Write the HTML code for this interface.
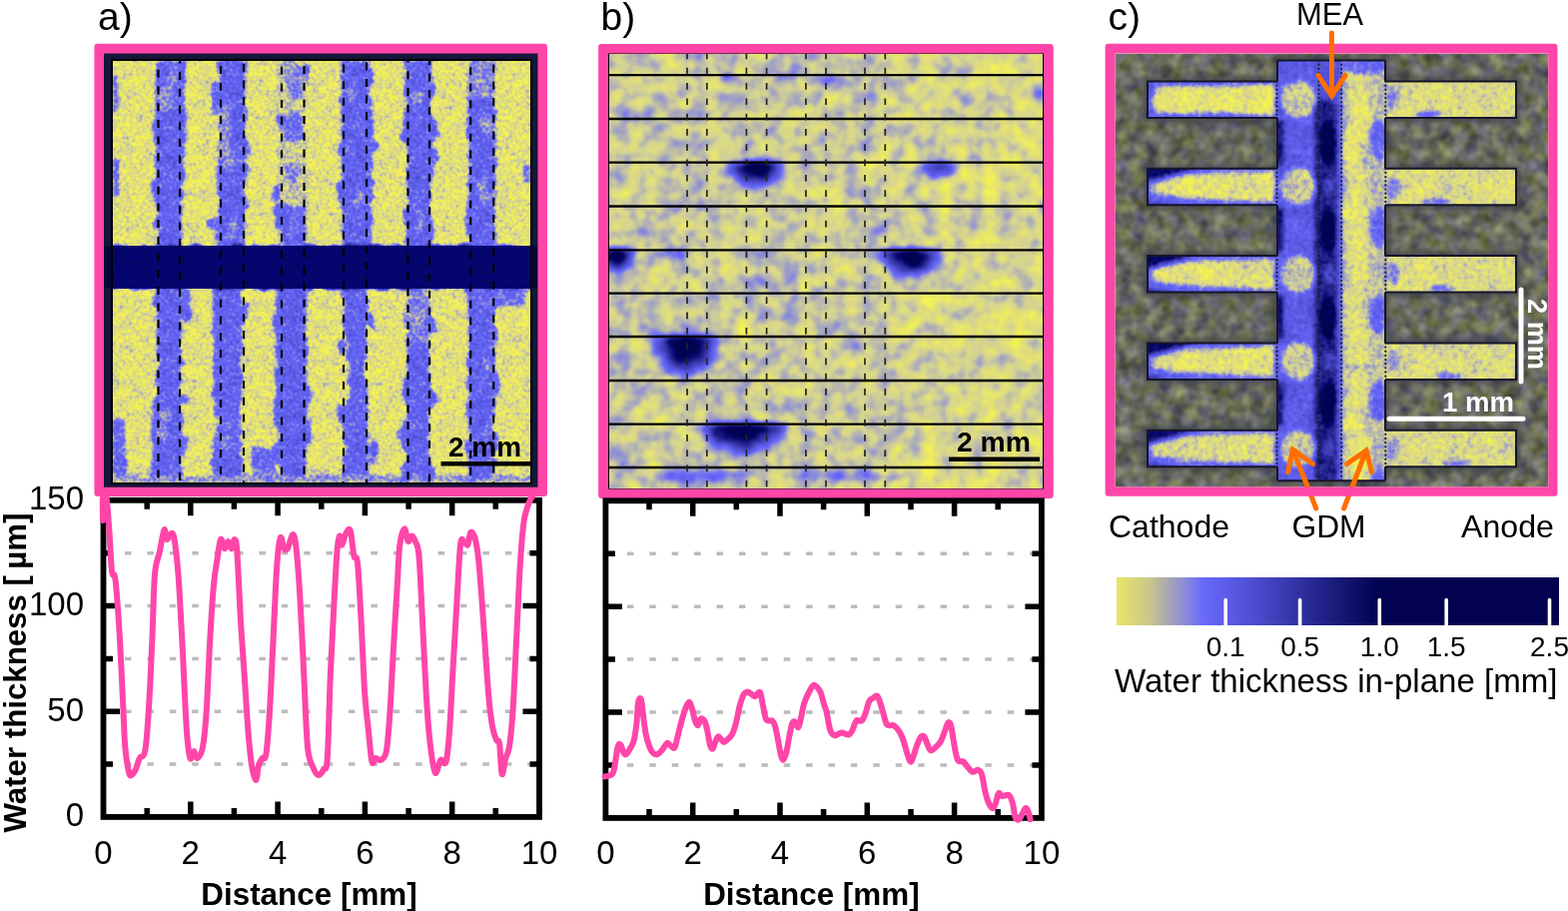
<!DOCTYPE html>
<html><head><meta charset="utf-8"><title>Water thickness figure</title>
<style>html,body{margin:0;padding:0;background:#fff;width:1570px;height:912px;overflow:hidden}svg{display:block}</style>
</head><body>
<svg width="1570" height="912" viewBox="0 0 1570 912">
<defs><filter id="fa" filterUnits="userSpaceOnUse" x="113" y="61" width="418" height="422" color-interpolation-filters="sRGB"><feTurbulence type="fractalNoise" baseFrequency="0.07" numOctaves="2" seed="4" result="dn"/><feDisplacementMap in="SourceGraphic" in2="dn" scale="11" xChannelSelector="R" yChannelSelector="G" result="d"/><feGaussianBlur in="d" stdDeviation="1.4" result="b"/><feTurbulence type="fractalNoise" baseFrequency="0.3" numOctaves="1" seed="7" result="n0"/><feColorMatrix in="n0" type="matrix" values="1 0 0 0 0 1 0 0 0 0 1 0 0 0 0 0 0 0 0 1" result="n"/><feComposite in="b" in2="n" operator="arithmetic" k1="0" k2="1" k3="0.24" k4="-0.1200" result="v1"/><feTurbulence type="fractalNoise" baseFrequency="0.09" numOctaves="2" seed="3" result="m0"/><feColorMatrix in="m0" type="matrix" values="0 1 0 0 0 0 1 0 0 0 0 1 0 0 0 0 0 0 0 1" result="m"/><feComposite in="v1" in2="m" operator="arithmetic" k1="0" k2="1" k3="0.12" k4="-0.0600" result="v2"/><feComponentTransfer in="v2"><feFuncR type="table" tableValues="0.953 0.912 0.872 0.831 0.742 0.654 0.566 0.480 0.407 0.384 0.360 0.336 0.313 0.288 0.259 0.229 0.200 0.171 0.135 0.098 0.061 0.030 0.021 0.013 0.008 0.008 0.008 0.008 0.008 0.008 0.008 0.008 0.008 0.008 0.008 0.008 0.008 0.008 0.008 0.008 0.008"/><feFuncG type="table" tableValues="0.945 0.905 0.864 0.824 0.739 0.654 0.566 0.480 0.407 0.384 0.360 0.336 0.313 0.288 0.259 0.229 0.200 0.171 0.135 0.098 0.061 0.030 0.021 0.013 0.008 0.008 0.008 0.008 0.008 0.008 0.008 0.008 0.008 0.008 0.008 0.008 0.008 0.008 0.008 0.008 0.008"/><feFuncB type="table" tableValues="0.333 0.416 0.498 0.580 0.664 0.750 0.837 0.922 0.981 0.944 0.907 0.870 0.833 0.794 0.745 0.696 0.647 0.598 0.553 0.510 0.466 0.424 0.384 0.345 0.322 0.322 0.322 0.322 0.322 0.322 0.322 0.322 0.322 0.322 0.322 0.322 0.322 0.322 0.322 0.322 0.322"/><feFuncA type="linear" slope="0" intercept="1"/></feComponentTransfer></filter><clipPath id="ca"><rect x="113" y="61" width="418" height="422"/></clipPath><filter id="fband" filterUnits="userSpaceOnUse" x="113" y="246.5" width="418" height="42.0" color-interpolation-filters="sRGB"><feTurbulence type="fractalNoise" baseFrequency="0.2" numOctaves="2" seed="5"/><feColorMatrix type="matrix" values="0 0 0 0 0.02  0 0 0 0 0.02  0.12 0 0 0 0.37  0 0 0 0 1"/></filter><filter id="fb" filterUnits="userSpaceOnUse" x="610" y="54" width="434" height="435" color-interpolation-filters="sRGB"><feGaussianBlur in="SourceGraphic" stdDeviation="3" result="b"/><feTurbulence type="fractalNoise" baseFrequency="0.065" numOctaves="2" seed="11" result="n0"/><feColorMatrix in="n0" type="matrix" values="1 0 0 0 0 1 0 0 0 0 1 0 0 0 0 0 0 0 0 1" result="n"/><feComposite in="b" in2="n" operator="arithmetic" k1="0" k2="1" k3="0.19" k4="-0.0950" result="v1"/><feTurbulence type="fractalNoise" baseFrequency="0.02" numOctaves="2" seed="5" result="m0"/><feColorMatrix in="m0" type="matrix" values="0 1 0 0 0 0 1 0 0 0 0 1 0 0 0 0 0 0 0 1" result="m"/><feComposite in="v1" in2="m" operator="arithmetic" k1="0" k2="1" k3="0.1" k4="-0.0500" result="v2"/><feComponentTransfer in="v2"><feFuncR type="table" tableValues="0.953 0.912 0.872 0.831 0.742 0.654 0.566 0.480 0.407 0.384 0.360 0.336 0.313 0.288 0.259 0.229 0.200 0.171 0.135 0.098 0.061 0.030 0.021 0.013 0.008 0.008 0.008 0.008 0.008 0.008 0.008 0.008 0.008 0.008 0.008 0.008 0.008 0.008 0.008 0.008 0.008"/><feFuncG type="table" tableValues="0.945 0.905 0.864 0.824 0.739 0.654 0.566 0.480 0.407 0.384 0.360 0.336 0.313 0.288 0.259 0.229 0.200 0.171 0.135 0.098 0.061 0.030 0.021 0.013 0.008 0.008 0.008 0.008 0.008 0.008 0.008 0.008 0.008 0.008 0.008 0.008 0.008 0.008 0.008 0.008 0.008"/><feFuncB type="table" tableValues="0.333 0.416 0.498 0.580 0.664 0.750 0.837 0.922 0.981 0.944 0.907 0.870 0.833 0.794 0.745 0.696 0.647 0.598 0.553 0.510 0.466 0.424 0.384 0.345 0.322 0.322 0.322 0.322 0.322 0.322 0.322 0.322 0.322 0.322 0.322 0.322 0.322 0.322 0.322 0.322 0.322"/><feFuncA type="linear" slope="0" intercept="1"/></feComponentTransfer></filter><clipPath id="cb"><rect x="610" y="54" width="434" height="435"/></clipPath><linearGradient id="bgrad" gradientUnits="userSpaceOnUse" x1="610" y1="0" x2="1044" y2="0"><stop offset="0" stop-color="#161616"/><stop offset="0.55" stop-color="#161616"/><stop offset="0.8" stop-color="#111111"/><stop offset="1" stop-color="#101010"/></linearGradient><radialGradient id="gdark" cx="0.5" cy="0.5" r="0.5"><stop offset="0" stop-color="#adadad" stop-opacity="1"/><stop offset="0.35" stop-color="#9e9e9e" stop-opacity="1"/><stop offset="0.62" stop-color="#6b6b6b" stop-opacity="1"/><stop offset="0.85" stop-color="#383838" stop-opacity="0.8"/><stop offset="1" stop-color="#1f1f1f" stop-opacity="0"/></radialGradient><radialGradient id="gmed" cx="0.5" cy="0.5" r="0.5"><stop offset="0" stop-color="#737373" stop-opacity="1"/><stop offset="0.5" stop-color="#575757" stop-opacity="1"/><stop offset="0.8" stop-color="#333333" stop-opacity="0.7"/><stop offset="1" stop-color="#1f1f1f" stop-opacity="0"/></radialGradient><radialGradient id="glight" cx="0.5" cy="0.5" r="0.5"><stop offset="0" stop-color="#424242" stop-opacity="1"/><stop offset="0.6" stop-color="#333333" stop-opacity="0.8"/><stop offset="1" stop-color="#1f1f1f" stop-opacity="0"/></radialGradient><clipPath id="hbc0"><rect x="723" y="162.7" width="68" height="30"/></clipPath><clipPath id="hbc1"><rect x="913" y="162.7" width="54" height="21"/></clipPath><clipPath id="hbc2"><rect x="875" y="250.4" width="74" height="32"/></clipPath><clipPath id="hbc3"><rect x="593" y="250.4" width="48" height="26"/></clipPath><clipPath id="hbc4"><rect x="649" y="250.4" width="48" height="17"/></clipPath><clipPath id="hbc5"><rect x="647" y="337" width="80" height="50"/></clipPath><clipPath id="hbc6"><rect x="691" y="424.6" width="108" height="35"/></clipPath><clipPath id="hbc7"><rect x="716" y="75.2" width="26" height="13"/></clipPath><clipPath id="hbc8"><rect x="769" y="75.2" width="30" height="13"/></clipPath><clipPath id="hbc9"><rect x="818" y="75.2" width="28" height="14"/></clipPath><clipPath id="cc"><rect x="1116.5" y="53.7" width="433.79999999999995" height="433.90000000000003"/></clipPath><filter id="fcbg" filterUnits="userSpaceOnUse" x="1116.5" y="53.7" width="433.79999999999995" height="433.90000000000003" color-interpolation-filters="sRGB">
<feTurbulence type="fractalNoise" baseFrequency="0.075" numOctaves="2" seed="21" result="n"/>
<feColorMatrix in="n" type="matrix" values="0.42 0.2 0 0 0.1  0.42 0.23 0 0 0.095  0.42 -0.2 0 0 0.26  0 0 0 0 1"/>
</filter><filter id="fhalo" x="-20%" y="-40%" width="140%" height="180%"><feGaussianBlur stdDeviation="3"/></filter><filter id="fc" filterUnits="userSpaceOnUse" x="1116.5" y="53.7" width="433.79999999999995" height="433.90000000000003" color-interpolation-filters="sRGB"><feGaussianBlur in="SourceGraphic" stdDeviation="2.2" result="b"/><feTurbulence type="fractalNoise" baseFrequency="0.2" numOctaves="2" seed="13" result="n0"/><feColorMatrix in="n0" type="matrix" values="1 0 0 0 0 1 0 0 0 0 1 0 0 0 0 0 0 0 0 1" result="n"/><feComposite in="b" in2="n" operator="arithmetic" k1="0" k2="1" k3="0.17" k4="-0.0850" result="v1"/><feTurbulence type="fractalNoise" baseFrequency="0.05" numOctaves="2" seed="9" result="m0"/><feColorMatrix in="m0" type="matrix" values="0 1 0 0 0 0 1 0 0 0 0 1 0 0 0 0 0 0 0 1" result="m"/><feComposite in="v1" in2="m" operator="arithmetic" k1="0" k2="1" k3="0.1" k4="-0.0500" result="v2"/><feComponentTransfer in="v2"><feFuncR type="table" tableValues="0.953 0.912 0.872 0.831 0.742 0.654 0.566 0.480 0.407 0.384 0.360 0.336 0.313 0.288 0.259 0.229 0.200 0.171 0.135 0.098 0.061 0.030 0.021 0.013 0.008 0.008 0.008 0.008 0.008 0.008 0.008 0.008 0.008 0.008 0.008 0.008 0.008 0.008 0.008 0.008 0.008"/><feFuncG type="table" tableValues="0.945 0.905 0.864 0.824 0.739 0.654 0.566 0.480 0.407 0.384 0.360 0.336 0.313 0.288 0.259 0.229 0.200 0.171 0.135 0.098 0.061 0.030 0.021 0.013 0.008 0.008 0.008 0.008 0.008 0.008 0.008 0.008 0.008 0.008 0.008 0.008 0.008 0.008 0.008 0.008 0.008"/><feFuncB type="table" tableValues="0.333 0.416 0.498 0.580 0.664 0.750 0.837 0.922 0.981 0.944 0.907 0.870 0.833 0.794 0.745 0.696 0.647 0.598 0.553 0.510 0.466 0.424 0.384 0.345 0.322 0.322 0.322 0.322 0.322 0.322 0.322 0.322 0.322 0.322 0.322 0.322 0.322 0.322 0.322 0.322 0.322"/><feFuncA type="linear" slope="0" intercept="1"/></feComponentTransfer></filter><clipPath id="cch"><rect x="1149" y="81.5" width="369" height="36.5"/><rect x="1149" y="168.8" width="369" height="36.5"/><rect x="1149" y="256.1" width="369" height="36.5"/><rect x="1149" y="343.4" width="369" height="36.5"/><rect x="1149" y="430.7" width="369" height="36.5"/><rect x="1279" y="60.6" width="108" height="420.59999999999997"/></clipPath><linearGradient id="cbar" x1="0" x2="1" y1="0" y2="0"><stop offset="0.0" stop-color="rgb(232,230,100)"/><stop offset="0.075" stop-color="rgb(200,198,140)"/><stop offset="0.11" stop-color="rgb(172,172,172)"/><stop offset="0.155" stop-color="rgb(140,140,218)"/><stop offset="0.195" stop-color="rgb(105,105,252)"/><stop offset="0.32" stop-color="rgb(75,75,205)"/><stop offset="0.436" stop-color="rgb(42,42,150)"/><stop offset="0.59" stop-color="rgb(2,2,82)"/><stop offset="1.0" stop-color="rgb(2,2,80)"/></linearGradient></defs>
<rect width="1570" height="912" fill="#fff"/>
<rect x="103" y="52.5" width="436.5" height="436" fill="#16163a"/>
<rect x="104" y="246.5" width="434.5" height="42.0" fill="#05053a"/>
<g clip-path="url(#ca)"><g filter="url(#fa)"><rect x="108" y="56" width="428" height="432" fill="#0a0a0a"/><rect x="108" y="75" width="11" height="35" rx="3" fill="#333333"/><rect x="108" y="158" width="10" height="39" rx="3" fill="#333333"/><rect x="108" y="420" width="18" height="70" rx="3" fill="#333333"/><polygon points="156.0,55.0 154.0,120.0 156.0,180.0 157.0,210.0 158.0,249.5 182.0,249.5 183.0,210.0 184.0,180.0 186.0,120.0 185.0,55.0" fill="#393939"/><polygon points="218.0,55.0 217.0,105.0 228.0,110.0 226.0,150.0 217.0,158.0 217.0,249.5 246.0,249.5 246.0,158.0 246.0,150.0 246.0,110.0 246.0,105.0 246.0,55.0" fill="#393939"/><rect x="219" y="105" width="11" height="53" rx="2" fill="#262626"/><rect x="278" y="55" width="30" height="194.5" rx="2" fill="#161616"/><rect x="286" y="66" width="18" height="32" rx="6" fill="#292929"/><rect x="284" y="114" width="21" height="27" rx="6" fill="#303030"/><rect x="283" y="206" width="23" height="43.5" rx="6" fill="#363636"/><rect x="286" y="162" width="14" height="20" rx="5" fill="#242424"/><polygon points="342.0,55.0 341.0,100.0 342.0,160.0 343.0,249.5 372.0,249.5 374.0,160.0 372.0,100.0 373.0,55.0" fill="#393939"/><polygon points="406.0,55.0 405.0,100.0 407.0,180.0 406.0,249.5 433.0,249.5 432.0,180.0 433.0,100.0 433.0,55.0" fill="#393939"/><rect x="468" y="55" width="28" height="45" rx="2" fill="#292929"/><polygon points="469.0,98.0 468.0,160.0 469.0,249.5 495.0,249.5 496.0,160.0 495.0,98.0" fill="#393939"/><rect x="524" y="165" width="12" height="17" rx="3" fill="#333333"/><polygon points="157.0,285.5 157.0,380.0 152.0,425.0 150.0,489.0 183.0,489.0 182.0,425.0 182.0,380.0 182.0,285.5" fill="#393939"/><polygon points="213.0,285.5 214.0,400.0 220.0,420.0 214.0,440.0 213.0,489.0 242.0,489.0 242.0,440.0 240.0,420.0 242.0,400.0 242.0,285.5" fill="#393939"/><polygon points="276.0,285.5 277.0,440.0 280.0,489.0 306.0,489.0 307.0,440.0 307.0,285.5" fill="#3b3b3b"/><rect x="250" y="450" width="26" height="30" rx="3" fill="#333333"/><polygon points="344.0,285.5 344.0,330.0 349.0,340.0 349.0,395.0 344.0,405.0 344.0,489.0 369.0,489.0 368.0,405.0 366.0,395.0 366.0,340.0 368.0,330.0 368.0,285.5" fill="#393939"/><rect x="406" y="285.5" width="24" height="59.5" rx="2" fill="#292929"/><polygon points="406.0,343.0 406.0,489.0 430.0,489.0 430.0,343.0" fill="#393939"/><polygon points="468.0,285.5 468.0,489.0 496.0,489.0 496.0,285.5" fill="#393939"/><rect x="480" y="285.5" width="46" height="19.5" rx="3" fill="#333333"/><rect x="108" y="476" width="428" height="14" rx="0" fill="#262626"/><ellipse cx="183.80732928239826" cy="297.10440215380834" rx="6.4201825436170346" ry="6.709118281766347" fill="#393939"/><ellipse cx="184.5195308808672" cy="399.6381313428404" rx="6.1719074900798105" ry="5.847111106062966" fill="#393939"/><ellipse cx="156.15477403431072" cy="189.42853030230071" rx="6.5615219680499575" ry="10.710075045950138" fill="#393939"/><ellipse cx="185.85903112450228" cy="312.08333245308125" rx="5.615690134135361" ry="10.540064341207136" fill="#393939"/><ellipse cx="157.32680650139991" cy="128.14751995886823" rx="3.2526596802339287" ry="5.320875024138944" fill="#393939"/><ellipse cx="162.4813214275966" cy="431.41728846442743" rx="5.855737844893138" ry="8.083717816596597" fill="#262626"/><ellipse cx="165.73833020213743" cy="415.8193939777834" rx="5.176606282585059" ry="5.032156405129632" fill="#262626"/><ellipse cx="166.45060639462218" cy="97.69527977763522" rx="7.990624801852338" ry="11.969841491593394" fill="#262626"/><ellipse cx="166.06391588631595" cy="414.890530787002" rx="7.031960196187075" ry="8.590192489499447" fill="#262626"/><ellipse cx="174.2606061825665" cy="74.49580315868458" rx="5.601599219673965" ry="10.92608535316825" fill="#262626"/><ellipse cx="157.38923909321122" cy="224.3356833164925" rx="3.002179748222282" ry="6.8874567325665" fill="#393939"/><ellipse cx="183.50185283959982" cy="444.3142098037562" rx="5.835596573276055" ry="8.778122608790882" fill="#393939"/><ellipse cx="157.11404343470662" cy="299.8215332654943" rx="4.079102347400571" ry="5.784297785169532" fill="#393939"/><ellipse cx="246.03216206797504" cy="201.68596269460613" rx="3.471966717678203" ry="7.21749154003817" fill="#393939"/><ellipse cx="215.85975938430494" cy="104.43944976181614" rx="4.9472931676411065" ry="11.138696976256789" fill="#393939"/><ellipse cx="225.24163505993621" cy="141.12189638553895" rx="6.927576862857402" ry="5.916769586016338" fill="#262626"/><ellipse cx="215.5794134861456" cy="332.3603519586902" rx="6.9602089885731235" ry="5.004238176555594" fill="#393939"/><ellipse cx="227.17046754780682" cy="425.02025577269643" rx="7.539460450995883" ry="6.474971550041076" fill="#262626"/><ellipse cx="232.91120616203784" cy="227.59534757026282" rx="4.401331008735532" ry="11.925111882571207" fill="#262626"/><ellipse cx="243.03830095448166" cy="151.56221480255948" rx="5.441332648067338" ry="12.47260530044826" fill="#393939"/><ellipse cx="214.36046869184773" cy="224.1913813861265" rx="5.330939192670208" ry="7.187116281238062" fill="#393939"/><ellipse cx="245.48859692970538" cy="314.53921430441426" rx="3.508884369109114" ry="10.285441423606281" fill="#393939"/><ellipse cx="217.4661026712089" cy="411.59087611228165" rx="3.7313108631147407" ry="6.387217870334547" fill="#393939"/><ellipse cx="226.24147562929724" cy="443.53796699584285" rx="4.75920266385304" ry="10.175970728716559" fill="#262626"/><ellipse cx="216.74789601415802" cy="456.9700563598506" rx="4.552839752500944" ry="9.342645901678562" fill="#393939"/><ellipse cx="214.41535872545978" cy="94.96907929340028" rx="3.1547858867751306" ry="13.664133603100536" fill="#393939"/><ellipse cx="228.65738643980535" cy="162.13102092391276" rx="5.68326121043318" ry="11.333768421227218" fill="#262626"/><ellipse cx="277.5056006976484" cy="452.27919830790455" rx="4.9171996283342345" ry="10.881568369802824" fill="#393939"/><ellipse cx="278.1208775702834" cy="320.66563303774046" rx="6.6694407139703005" ry="6.835809914327159" fill="#393939"/><ellipse cx="305.6457062496455" cy="68.96141309324514" rx="3.9962561148540847" ry="5.419383239643901" fill="#393939"/><ellipse cx="293.5825413435398" cy="180.42399101622294" rx="4.526314082509044" ry="7.535016096896366" fill="#262626"/><ellipse cx="306.62772818603827" cy="436.19489658732124" rx="5.764886364994615" ry="10.259962413621611" fill="#393939"/><ellipse cx="280.69434946828767" cy="120.94581860115946" rx="4.899171588129176" ry="8.21724847189136" fill="#393939"/><ellipse cx="277.0850367128364" cy="192.9579757181095" rx="5.544738086308051" ry="9.340121504704914" fill="#393939"/><ellipse cx="304.54642322657577" cy="368.8091519970185" rx="3.2897282265205052" ry="9.077816850802737" fill="#393939"/><ellipse cx="280.6007835249975" cy="216.46587808089186" rx="5.94835253766624" ry="11.333215573175996" fill="#393939"/><ellipse cx="305.407336386589" cy="395.1720039592633" rx="5.740583821334792" ry="13.10752345397341" fill="#393939"/><ellipse cx="307.7769573864499" cy="427.86252883124456" rx="3.121078636153718" ry="9.499331028426196" fill="#393939"/><ellipse cx="290.73500291025374" cy="68.10366405906846" rx="6.330715567244505" ry="9.262068305207368" fill="#262626"/><ellipse cx="350.08044616788476" cy="95.68485210889831" rx="5.028813090318198" ry="7.913723998497796" fill="#262626"/><ellipse cx="360.4948165003743" cy="200.66294833379428" rx="5.831023169771507" ry="8.238355620716439" fill="#262626"/><ellipse cx="341.923827261397" cy="192.29869610473372" rx="3.9208865749059845" ry="11.285012118637296" fill="#393939"/><ellipse cx="371.0233208804255" cy="320.09136999588657" rx="3.0452288200840756" ry="7.709293769962962" fill="#393939"/><ellipse cx="342.0735784819605" cy="346.81753123505706" rx="6.015085157922554" ry="8.082718453853651" fill="#393939"/><ellipse cx="373.56690768127095" cy="452.72660107621283" rx="4.307842475317631" ry="10.993091562803041" fill="#393939"/><ellipse cx="373.2148549200889" cy="145.37242712343271" rx="6.018518773145115" ry="6.802626974302681" fill="#393939"/><ellipse cx="342.33242875101575" cy="151.95950029384977" rx="4.265947377976553" ry="6.225586937449683" fill="#393939"/><ellipse cx="342.8448710460704" cy="413.5801593376265" rx="6.80000060738206" ry="7.4911639719957" fill="#393939"/><ellipse cx="431.8854067407597" cy="133.03414243003976" rx="6.702927476587306" ry="12.47806528006392" fill="#393939"/><ellipse cx="418.91425513781655" cy="222.6702044815428" rx="5.261486581452983" ry="10.873828887144583" fill="#262626"/><ellipse cx="431.2813848577344" cy="474.4553324461435" rx="6.314909429296427" ry="7.503113417740624" fill="#393939"/><ellipse cx="421.9208330060168" cy="317.17291007507686" rx="6.282327841347895" ry="7.163212459869716" fill="#262626"/><ellipse cx="406.56394216823224" cy="394.4356791145829" rx="4.620756222451699" ry="6.709266396034796" fill="#393939"/><ellipse cx="430.94963603553936" cy="385.06951827154114" rx="3.5634981035246645" ry="5.422483122766863" fill="#393939"/><ellipse cx="430.43608080238" cy="326.2557283373775" rx="5.141566325874419" ry="10.759242536622764" fill="#393939"/><ellipse cx="406.73797098392396" cy="216.84690176362895" rx="3.797365689988071" ry="9.2762807183294" fill="#393939"/><ellipse cx="407.0202038428843" cy="137.04815995673553" rx="5.139394095962373" ry="5.325575058250794" fill="#393939"/><ellipse cx="432.1587565153036" cy="157.1117780386587" rx="6.787275180829255" ry="9.50374420382104" fill="#393939"/><ellipse cx="405.57406484629996" cy="480.6596846402204" rx="6.167728951567138" ry="13.156132869536469" fill="#393939"/><ellipse cx="417.4316106872167" cy="98.62805715503194" rx="5.802011771605496" ry="6.378137121936955" fill="#262626"/><ellipse cx="405.50721107572355" cy="434.6768580241907" rx="5.275256176372581" ry="12.913887437610727" fill="#393939"/><ellipse cx="431.85483093042575" cy="396.64224118120205" rx="5.6052902633647275" ry="6.844049281557513" fill="#393939"/><ellipse cx="487.8634567019711" cy="365.2129735036679" rx="4.493936247029799" ry="6.6960432253769495" fill="#262626"/><ellipse cx="469.9094340893584" cy="225.89348009085" rx="5.147826402686494" ry="12.117084170806617" fill="#393939"/><ellipse cx="486.836751939615" cy="196.5657851546326" rx="5.394028172037579" ry="5.579408081322491" fill="#262626"/><ellipse cx="496.6790323265913" cy="384.6580679089416" rx="3.873178088937406" ry="12.80794048738861" fill="#393939"/><ellipse cx="479.0250649101939" cy="76.74380532366368" rx="7.151623663783289" ry="5.983501391812666" fill="#262626"/><ellipse cx="487.50850847254316" cy="124.4437324697229" rx="6.072849745749725" ry="9.745204030168061" fill="#262626"/><ellipse cx="488.2373156200047" cy="431.5742740249942" rx="4.3440940307926885" ry="6.549899168878456" fill="#262626"/><ellipse cx="482.4229674159219" cy="183.87126449560424" rx="4.657401219689331" ry="8.59950499166074" fill="#262626"/><ellipse cx="494.24679025028047" cy="443.02905597677716" rx="4.5248679207201175" ry="12.607345102955616" fill="#393939"/><rect x="108" y="246.5" width="428" height="42.0" fill="#858585"/></g></g>
<rect x="113" y="246.5" width="418" height="42.0" fill="#05056c" filter="url(#fband)"/>
<rect x="112" y="60" width="420" height="424" fill="none" stroke="#000" stroke-width="2"/>
<line x1="158.5" y1="61" x2="158.5" y2="483" stroke="#000" stroke-width="2.2" stroke-dasharray="8 8.7" stroke-dashoffset="7.9"/>
<line x1="180" y1="61" x2="180" y2="483" stroke="#000" stroke-width="2.2" stroke-dasharray="8 8.7" stroke-dashoffset="5.6"/>
<line x1="221" y1="61" x2="221" y2="483" stroke="#000" stroke-width="2.2" stroke-dasharray="8 8.7" stroke-dashoffset="11.7"/>
<line x1="244" y1="61" x2="244" y2="483" stroke="#000" stroke-width="2.2" stroke-dasharray="8 8.7" stroke-dashoffset="13.9"/>
<line x1="282" y1="61" x2="282" y2="483" stroke="#000" stroke-width="2.2" stroke-dasharray="8 8.7" stroke-dashoffset="11.0"/>
<line x1="304.5" y1="61" x2="304.5" y2="483" stroke="#000" stroke-width="2.2" stroke-dasharray="8 8.7" stroke-dashoffset="11.7"/>
<line x1="344" y1="61" x2="344" y2="483" stroke="#000" stroke-width="2.2" stroke-dasharray="8 8.7" stroke-dashoffset="13.3"/>
<line x1="367" y1="61" x2="367" y2="483" stroke="#000" stroke-width="2.2" stroke-dasharray="8 8.7" stroke-dashoffset="15.5"/>
<line x1="408.5" y1="61" x2="408.5" y2="483" stroke="#000" stroke-width="2.2" stroke-dasharray="8 8.7" stroke-dashoffset="6.4"/>
<line x1="430" y1="61" x2="430" y2="483" stroke="#000" stroke-width="2.2" stroke-dasharray="8 8.7" stroke-dashoffset="4.1"/>
<line x1="471.2" y1="61" x2="471.2" y2="483" stroke="#000" stroke-width="2.2" stroke-dasharray="8 8.7" stroke-dashoffset="10.8"/>
<line x1="494.2" y1="61" x2="494.2" y2="483" stroke="#000" stroke-width="2.2" stroke-dasharray="8 8.7" stroke-dashoffset="13.0"/>
<rect x="441.5" y="462" width="89.5" height="4.5" fill="#000"/>
<text x="449" y="457" font-family="Liberation Sans, sans-serif" font-weight="bold" font-size="28.5" textLength="73" lengthAdjust="spacingAndGlyphs">2 mm</text>
<path d="M97.60000000000001,43.8 H544.8 A3.2,3.2 0 0 1 548,47.0 V493.8 A3.2,3.2 0 0 1 544.8,497 H97.60000000000001 A3.2,3.2 0 0 1 94.4,493.8 V47.0 A3.2,3.2 0 0 1 97.60000000000001,43.8 Z M104,53.4 V487.8 H538.5 V53.4 Z" fill="#FF46A8" fill-rule="evenodd"/>
<g clip-path="url(#cb)"><g filter="url(#fb)"><rect x="600" y="44" width="454" height="455" fill="#0e0e0e"/><rect x="600" y="44" width="454" height="455" fill="url(#bgrad)"/><ellipse cx="757" cy="162.7" rx="32" ry="28" fill="url(#gdark)" clip-path="url(#hbc0)"/><ellipse cx="940" cy="162.7" rx="25" ry="19" fill="url(#gmed)" clip-path="url(#hbc1)"/><ellipse cx="912" cy="250.4" rx="35" ry="30" fill="url(#gdark)" clip-path="url(#hbc2)"/><ellipse cx="617" cy="250.4" rx="22" ry="24" fill="url(#gdark)" clip-path="url(#hbc3)"/><ellipse cx="673" cy="250.4" rx="22" ry="15" fill="url(#glight)" clip-path="url(#hbc4)"/><ellipse cx="687" cy="337" rx="38" ry="48" fill="url(#gdark)" clip-path="url(#hbc5)"/><ellipse cx="745" cy="424.6" rx="52" ry="33" fill="url(#gdark)" clip-path="url(#hbc6)"/><ellipse cx="729" cy="75.2" rx="11" ry="11" fill="url(#glight)" clip-path="url(#hbc7)"/><ellipse cx="784" cy="75.2" rx="13" ry="11" fill="url(#glight)" clip-path="url(#hbc8)"/><ellipse cx="832" cy="75.2" rx="12" ry="12" fill="url(#glight)" clip-path="url(#hbc9)"/><ellipse cx="700" cy="476" rx="45" ry="6" fill="#333333"/><ellipse cx="850" cy="477" rx="60" ry="5" fill="#2e2e2e"/><ellipse cx="1040" cy="92" rx="6" ry="10" fill="#333333"/><ellipse cx="645" cy="232" rx="8" ry="6" fill="#292929"/><ellipse cx="700" cy="205" rx="6" ry="6" fill="#292929"/><ellipse cx="820" cy="290" rx="8" ry="6" fill="#292929"/><ellipse cx="880" cy="228" rx="8" ry="8" fill="#292929"/><ellipse cx="750" cy="300" rx="6" ry="12" fill="#262626"/></g></g>
<line x1="610" y1="75.2" x2="1044" y2="75.2" stroke="#000" stroke-width="2.3"/>
<line x1="610" y1="119" x2="1044" y2="119" stroke="#000" stroke-width="2.3"/>
<line x1="610" y1="162.7" x2="1044" y2="162.7" stroke="#000" stroke-width="2.3"/>
<line x1="610" y1="206.5" x2="1044" y2="206.5" stroke="#000" stroke-width="2.3"/>
<line x1="610" y1="250.4" x2="1044" y2="250.4" stroke="#000" stroke-width="2.3"/>
<line x1="610" y1="293.7" x2="1044" y2="293.7" stroke="#000" stroke-width="2.3"/>
<line x1="610" y1="337" x2="1044" y2="337" stroke="#000" stroke-width="2.3"/>
<line x1="610" y1="381" x2="1044" y2="381" stroke="#000" stroke-width="2.3"/>
<line x1="610" y1="424.6" x2="1044" y2="424.6" stroke="#000" stroke-width="2.3"/>
<line x1="610" y1="468" x2="1044" y2="468" stroke="#000" stroke-width="2.3"/>
<line x1="688" y1="54" x2="688" y2="489" stroke="#222" stroke-width="1.7" stroke-dasharray="6.7 8.6" stroke-dashoffset="1.5"/>
<line x1="707.8" y1="54" x2="707.8" y2="489" stroke="#222" stroke-width="1.7" stroke-dasharray="6.7 8.6" stroke-dashoffset="1.5"/>
<line x1="747.4" y1="54" x2="747.4" y2="489" stroke="#222" stroke-width="1.7" stroke-dasharray="6.7 8.6" stroke-dashoffset="1.5"/>
<line x1="767.6" y1="54" x2="767.6" y2="489" stroke="#222" stroke-width="1.7" stroke-dasharray="6.7 8.6" stroke-dashoffset="1.5"/>
<line x1="806.9" y1="54" x2="806.9" y2="489" stroke="#222" stroke-width="1.7" stroke-dasharray="6.7 8.6" stroke-dashoffset="1.5"/>
<line x1="827" y1="54" x2="827" y2="489" stroke="#222" stroke-width="1.7" stroke-dasharray="6.7 8.6" stroke-dashoffset="1.5"/>
<line x1="866" y1="54" x2="866" y2="489" stroke="#222" stroke-width="1.7" stroke-dasharray="6.7 8.6" stroke-dashoffset="1.5"/>
<line x1="886.3" y1="54" x2="886.3" y2="489" stroke="#222" stroke-width="1.7" stroke-dasharray="6.7 8.6" stroke-dashoffset="1.5"/>
<rect x="609.25" y="53.25" width="435.5" height="436.5" fill="none" stroke="#000" stroke-width="1.5"/>
<rect x="950" y="457.5" width="91" height="4.5" fill="#000"/>
<text x="958" y="452.4" font-family="Liberation Sans, sans-serif" font-weight="bold" font-size="28.5" textLength="74" lengthAdjust="spacingAndGlyphs">2 mm</text>
<path d="M602.3000000000001,44 H1051.6 A3.2,3.2 0 0 1 1054.8,47.2 V495.8 A3.2,3.2 0 0 1 1051.6,499 H602.3000000000001 A3.2,3.2 0 0 1 599.1,495.8 V47.2 A3.2,3.2 0 0 1 602.3000000000001,44 Z M609,53.5 V489.5 H1045 V53.5 Z" fill="#FF46A8" fill-rule="evenodd"/>
<g clip-path="url(#cc)"><rect x="1116.5" y="53.7" width="433.79999999999995" height="433.90000000000003" fill="#777" filter="url(#fcbg)"/>
<g filter="url(#fhalo)" opacity="0.7"><rect x="1145" y="77.5" width="377" height="44.5" fill="#3a3a48"/><rect x="1145" y="164.8" width="377" height="44.5" fill="#3a3a48"/><rect x="1145" y="252.10000000000002" width="377" height="44.5" fill="#3a3a48"/><rect x="1145" y="339.4" width="377" height="44.5" fill="#3a3a48"/><rect x="1145" y="426.7" width="377" height="44.5" fill="#3a3a48"/><rect x="1275" y="56.6" width="116" height="428.59999999999997" fill="#3a3a48"/></g>
</g>
<g clip-path="url(#cch)"><g filter="url(#fc)"><rect x="1116.5" y="53.7" width="433.79999999999995" height="433.90000000000003" fill="#0d0d0d"/><rect x="1145" y="77.5" width="134" height="44.5" fill="#383838"/><polygon points="1154,96.75 1189,87.5 1281,84.5 1281,115.0 1189,111.0 1154,106.75" fill="#0b0b0b"/><rect x="1157" y="86.5" width="130" height="26.5" fill="#080808"/><rect x="1387" y="77.5" width="135" height="44.5" fill="#0e0e0e"/><ellipse cx="1430" cy="115.0" rx="14" ry="4" fill="#333333"/><ellipse cx="1395" cy="99.75" rx="6" ry="12" fill="#292929"/><rect x="1145" y="164.8" width="134" height="44.5" fill="#383838"/><polygon points="1154,184.05 1189,174.8 1281,171.8 1281,202.3 1189,198.3 1154,194.05" fill="#0b0b0b"/><polygon points="1145,164.8 1209,164.8 1145,181.8" fill="#8c8c8c"/><polygon points="1145,209.3 1194,209.3 1145,200.3" fill="#666666"/><rect x="1387" y="164.8" width="135" height="44.5" fill="#0e0e0e"/><ellipse cx="1437" cy="202.3" rx="14" ry="4" fill="#333333"/><ellipse cx="1395" cy="187.05" rx="6" ry="12" fill="#292929"/><rect x="1145" y="252.10000000000002" width="134" height="44.5" fill="#383838"/><polygon points="1154,271.35 1189,262.1 1281,259.1 1281,289.6 1189,285.6 1154,281.35" fill="#0b0b0b"/><polygon points="1145,252.10000000000002 1209,252.10000000000002 1145,269.1" fill="#8c8c8c"/><polygon points="1145,296.6 1194,296.6 1145,287.6" fill="#666666"/><rect x="1387" y="252.10000000000002" width="135" height="44.5" fill="#0e0e0e"/><ellipse cx="1444" cy="289.6" rx="14" ry="4" fill="#333333"/><ellipse cx="1395" cy="274.35" rx="6" ry="12" fill="#292929"/><rect x="1145" y="339.4" width="134" height="44.5" fill="#383838"/><polygon points="1154,358.65 1189,349.4 1281,346.4 1281,376.9 1189,372.9 1154,368.65" fill="#0b0b0b"/><polygon points="1145,339.4 1209,339.4 1145,356.4" fill="#8c8c8c"/><polygon points="1145,383.9 1194,383.9 1145,374.9" fill="#666666"/><rect x="1387" y="339.4" width="135" height="44.5" fill="#0e0e0e"/><ellipse cx="1451" cy="376.9" rx="14" ry="4" fill="#333333"/><ellipse cx="1395" cy="361.65" rx="6" ry="12" fill="#292929"/><rect x="1145" y="426.7" width="134" height="44.5" fill="#383838"/><polygon points="1154,445.95 1189,436.7 1281,433.7 1281,464.2 1189,460.2 1154,455.95" fill="#0b0b0b"/><polygon points="1145,426.7 1209,426.7 1145,443.7" fill="#8c8c8c"/><polygon points="1145,471.2 1194,471.2 1145,462.2" fill="#666666"/><rect x="1387" y="426.7" width="135" height="44.5" fill="#0e0e0e"/><ellipse cx="1458" cy="464.2" rx="14" ry="4" fill="#333333"/><ellipse cx="1395" cy="448.95" rx="6" ry="12" fill="#292929"/><rect x="1276" y="57.6" width="44" height="426.59999999999997" fill="#404040"/><rect x="1320" y="57.6" width="23" height="426.59999999999997" fill="#4c4c4c"/><rect x="1316" y="100" width="22" height="384.2" rx="8" fill="#757575"/><rect x="1343" y="57.6" width="47" height="426.59999999999997" fill="#1a1a1a"/><ellipse cx="1359.6061152540074" cy="73.45072193556437" rx="12.38558069669709" ry="11.82735085133115" fill="#0a0a0a"/><ellipse cx="1360.6590871726594" cy="95.0339499799925" rx="10.087015684850844" ry="10.396867963134316" fill="#0a0a0a"/><ellipse cx="1362.490210452985" cy="113.89384731882154" rx="12.702701475251867" ry="9.339617893959433" fill="#0a0a0a"/><ellipse cx="1358.2216214300395" cy="131.97943699571897" rx="11.631282577707792" ry="10.721823563784302" fill="#0a0a0a"/><ellipse cx="1354.1180277063002" cy="152.3003788027831" rx="10.838447098033331" ry="11.749036115425657" fill="#0a0a0a"/><ellipse cx="1360.8915290646623" cy="172.45762527414823" rx="12.391440974293614" ry="9.41630225519671" fill="#0a0a0a"/><ellipse cx="1359.557072684195" cy="192.76019539530162" rx="10.005324586607603" ry="11.614214234172845" fill="#0a0a0a"/><ellipse cx="1355.885107442456" cy="213.79288701534838" rx="12.947263326477776" ry="11.617223296310407" fill="#0a0a0a"/><ellipse cx="1356.6037465097224" cy="238.7688679337005" rx="11.617670406612431" ry="11.033491431751777" fill="#0a0a0a"/><ellipse cx="1355.843015630804" cy="259.145856006528" rx="12.071925823320726" ry="11.899692936951586" fill="#0a0a0a"/><ellipse cx="1362.0436750981883" cy="275.79273338712323" rx="11.083569804167153" ry="9.497868171389237" fill="#0a0a0a"/><ellipse cx="1355.311317185866" cy="294.89083828025406" rx="10.904077302308387" ry="10.809329992222963" fill="#0a0a0a"/><ellipse cx="1354.0304480743691" cy="319.06760549728614" rx="11.013690584883594" ry="9.929873794809387" fill="#0a0a0a"/><ellipse cx="1361.3666626718236" cy="338.38447111978024" rx="10.947379317539331" ry="10.443655158710591" fill="#0a0a0a"/><ellipse cx="1360.3420222072682" cy="356.34200557721476" rx="12.925298689432706" ry="9.068596689758163" fill="#0a0a0a"/><ellipse cx="1360.7481552006216" cy="381.5692853363288" rx="10.05420260613559" ry="11.363214911941302" fill="#0a0a0a"/><ellipse cx="1357.2956602825768" cy="400.4711129743412" rx="10.027235160458586" ry="9.140181356096825" fill="#0a0a0a"/><ellipse cx="1355.6282753915593" cy="423.231079397547" rx="10.589565011539024" ry="11.267209237353953" fill="#0a0a0a"/><ellipse cx="1362.3668978763776" cy="443.6522629765662" rx="11.033145439159036" ry="10.064379615173737" fill="#0a0a0a"/><ellipse cx="1358.7223163862382" cy="463.153618088194" rx="10.324158607194498" ry="11.245194169453988" fill="#0a0a0a"/><ellipse cx="1361.175040098322" cy="484.1581659151255" rx="10.109894739828482" ry="11.837400555126552" fill="#0a0a0a"/><ellipse cx="1368" cy="66" rx="22" ry="9" fill="#333333"/><ellipse cx="1300" cy="99.75" rx="18" ry="19" fill="#161616"/><ellipse cx="1330" cy="143.0" rx="8" ry="22" fill="#999999"/><rect x="1277" y="121.0" width="8" height="44" fill="#808080"/><ellipse cx="1380" cy="140.0" rx="8" ry="20" fill="#383838"/><ellipse cx="1300" cy="187.05" rx="18" ry="19" fill="#161616"/><ellipse cx="1330" cy="230.3" rx="8" ry="22" fill="#999999"/><ellipse cx="1331" cy="187.05" rx="6" ry="10" fill="#575757"/><rect x="1277" y="208.3" width="8" height="44" fill="#808080"/><ellipse cx="1380" cy="227.3" rx="8" ry="20" fill="#383838"/><ellipse cx="1300" cy="274.35" rx="18" ry="19" fill="#161616"/><ellipse cx="1330" cy="317.6" rx="8" ry="22" fill="#999999"/><ellipse cx="1331" cy="274.35" rx="6" ry="10" fill="#575757"/><rect x="1277" y="295.6" width="8" height="44" fill="#808080"/><ellipse cx="1380" cy="314.6" rx="8" ry="20" fill="#383838"/><ellipse cx="1300" cy="361.65" rx="18" ry="19" fill="#161616"/><ellipse cx="1330" cy="404.9" rx="8" ry="22" fill="#999999"/><ellipse cx="1331" cy="361.65" rx="6" ry="10" fill="#575757"/><rect x="1277" y="382.9" width="8" height="44" fill="#808080"/><ellipse cx="1380" cy="401.9" rx="8" ry="20" fill="#383838"/><ellipse cx="1300" cy="448.95" rx="18" ry="19" fill="#161616"/><ellipse cx="1331" cy="448.95" rx="6" ry="10" fill="#575757"/><ellipse cx="1380" cy="489.2" rx="8" ry="20" fill="#383838"/><ellipse cx="1365" cy="66" rx="20" ry="8" fill="#333333"/></g></g>
<path d="M1279,81.5 H1149 V118.0 H1279 M1387,81.5 H1518 V118.0 H1387 M1279,168.8 H1149 V205.3 H1279 M1387,168.8 H1518 V205.3 H1387 M1279,256.1 H1149 V292.6 H1279 M1387,256.1 H1518 V292.6 H1387 M1279,343.4 H1149 V379.9 H1279 M1387,343.4 H1518 V379.9 H1387 M1279,430.7 H1149 V467.2 H1279 M1387,430.7 H1518 V467.2 H1387 M1279,60.6 V81.5 M1387,60.6 V81.5 M1279,118.0 V168.8 M1387,118.0 V168.8 M1279,205.3 V256.1 M1387,205.3 V256.1 M1279,292.6 V343.4 M1387,292.6 V343.4 M1279,379.9 V430.7 M1387,379.9 V430.7 M1279,467.2 V481.2 M1387,467.2 V481.2 M1279,60.6 H1387 M1279,481.2 H1387" fill="none" stroke="#15152a" stroke-width="2"/>
<line x1="1320.4" y1="60.6" x2="1320.4" y2="481.2" stroke="#222" stroke-width="2.3" stroke-linecap="round" stroke-dasharray="0.01 4.15"/>
<line x1="1343.1" y1="60.6" x2="1343.1" y2="481.2" stroke="#222" stroke-width="2.3" stroke-linecap="round" stroke-dasharray="0.01 4.15"/>
<line x1="1278.5" y1="81.5" x2="1278.5" y2="118.0" stroke="#222" stroke-width="2.3" stroke-linecap="round" stroke-dasharray="0.01 4.15"/>
<line x1="1387.3" y1="81.5" x2="1387.3" y2="118.0" stroke="#222" stroke-width="2.3" stroke-linecap="round" stroke-dasharray="0.01 4.15"/>
<line x1="1278.5" y1="168.8" x2="1278.5" y2="205.3" stroke="#222" stroke-width="2.3" stroke-linecap="round" stroke-dasharray="0.01 4.15"/>
<line x1="1387.3" y1="168.8" x2="1387.3" y2="205.3" stroke="#222" stroke-width="2.3" stroke-linecap="round" stroke-dasharray="0.01 4.15"/>
<line x1="1278.5" y1="256.1" x2="1278.5" y2="292.6" stroke="#222" stroke-width="2.3" stroke-linecap="round" stroke-dasharray="0.01 4.15"/>
<line x1="1387.3" y1="256.1" x2="1387.3" y2="292.6" stroke="#222" stroke-width="2.3" stroke-linecap="round" stroke-dasharray="0.01 4.15"/>
<line x1="1278.5" y1="343.4" x2="1278.5" y2="379.9" stroke="#222" stroke-width="2.3" stroke-linecap="round" stroke-dasharray="0.01 4.15"/>
<line x1="1387.3" y1="343.4" x2="1387.3" y2="379.9" stroke="#222" stroke-width="2.3" stroke-linecap="round" stroke-dasharray="0.01 4.15"/>
<line x1="1278.5" y1="430.7" x2="1278.5" y2="467.2" stroke="#222" stroke-width="2.3" stroke-linecap="round" stroke-dasharray="0.01 4.15"/>
<line x1="1387.3" y1="430.7" x2="1387.3" y2="467.2" stroke="#222" stroke-width="2.3" stroke-linecap="round" stroke-dasharray="0.01 4.15"/>
<line x1="1523" y1="290" x2="1523" y2="382" stroke="#fff" stroke-width="5" stroke-linecap="round"/>
<line x1="1391" y1="419.2" x2="1525" y2="419.2" stroke="#fff" stroke-width="5" stroke-linecap="round"/>
<text x="1444" y="412" fill="#fff" font-family="Liberation Sans, sans-serif" font-weight="bold" font-size="27" textLength="72" lengthAdjust="spacingAndGlyphs">1 mm</text>
<text transform="translate(1530,299) rotate(90)" x="0" y="0" fill="#fff" font-family="Liberation Sans, sans-serif" font-weight="bold" font-size="27" textLength="71" lengthAdjust="spacingAndGlyphs">2 mm</text>
<path d="M1317.8,509 L1294.5,450 M1289.5,472.5 L1294.5,450 L1314.5,464.5" fill="none" stroke="#FF6E00" stroke-width="5" stroke-linecap="round" stroke-linejoin="miter"/>
<path d="M1345.6,509 L1368,451 M1348.5,464.5 L1368,451 L1373.5,472.5" fill="none" stroke="#FF6E00" stroke-width="5" stroke-linecap="round" stroke-linejoin="miter"/>
<path d="M1109.8,43.7 H1556.3 A3.2,3.2 0 0 1 1559.5,46.900000000000006 V493.6 A3.2,3.2 0 0 1 1556.3,496.8 H1109.8 A3.2,3.2 0 0 1 1106.6,493.6 V46.900000000000006 A3.2,3.2 0 0 1 1109.8,43.7 Z M1116.4,53.6 V487.6 H1550.3 V53.6 Z" fill="#FF46A8" fill-rule="evenodd"/>
<path d="M1333.4,33 L1333.4,96 M1320,75.5 L1333.4,96 L1347,75.5" fill="none" stroke="#FF6E00" stroke-width="5" stroke-linecap="round" stroke-linejoin="miter"/>
<rect x="1118" y="578" width="443" height="48" fill="url(#cbar)"/>
<line x1="1227.2" y1="600.5" x2="1227.2" y2="627" stroke="#fff" stroke-width="3.6" stroke-linecap="round"/>
<line x1="1301.6" y1="600.5" x2="1301.6" y2="627" stroke="#fff" stroke-width="3.6" stroke-linecap="round"/>
<line x1="1381.3" y1="600.5" x2="1381.3" y2="627" stroke="#fff" stroke-width="3.6" stroke-linecap="round"/>
<line x1="1448.2" y1="600.5" x2="1448.2" y2="627" stroke="#fff" stroke-width="3.6" stroke-linecap="round"/>
<line x1="1551.5" y1="600.5" x2="1551.5" y2="627" stroke="#fff" stroke-width="3.6" stroke-linecap="round"/>
<text x="1227.2" y="657" font-family="Liberation Sans, sans-serif" font-size="28" text-anchor="middle">0.1</text>
<text x="1301.6" y="657" font-family="Liberation Sans, sans-serif" font-size="28" text-anchor="middle">0.5</text>
<text x="1381.3" y="657" font-family="Liberation Sans, sans-serif" font-size="28" text-anchor="middle">1.0</text>
<text x="1448.2" y="657" font-family="Liberation Sans, sans-serif" font-size="28" text-anchor="middle">1.5</text>
<text x="1551.5" y="657" font-family="Liberation Sans, sans-serif" font-size="28" text-anchor="middle">2.5</text>
<text x="1116" y="693.2" font-family="Liberation Sans, sans-serif" font-size="32.5" textLength="443.5" lengthAdjust="spacingAndGlyphs">Water thickness in-plane [mm]</text>
<text x="98" y="29.8" font-family="Liberation Sans, sans-serif" font-size="39">a)</text>
<text x="601.5" y="30" font-family="Liberation Sans, sans-serif" font-size="39">b)</text>
<text x="1109.5" y="29.8" font-family="Liberation Sans, sans-serif" font-size="39">c)</text>
<text x="1298" y="24.6" font-family="Liberation Sans, sans-serif" font-size="32" textLength="67" lengthAdjust="spacingAndGlyphs">MEA</text>
<text x="1110" y="537.6" font-family="Liberation Sans, sans-serif" font-size="32" textLength="121" lengthAdjust="spacingAndGlyphs">Cathode</text>
<text x="1293.5" y="537.6" font-family="Liberation Sans, sans-serif" font-size="32" textLength="74" lengthAdjust="spacingAndGlyphs">GDM</text>
<text x="1463" y="538.2" font-family="Liberation Sans, sans-serif" font-size="32" textLength="93" lengthAdjust="spacingAndGlyphs">Anode</text>
<line x1="125.0" y1="765.0" x2="537.0" y2="765.0" stroke="#bbb" stroke-width="3.5" stroke-dasharray="6.5 15.9"/>
<line x1="125.0" y1="712.2" x2="537.0" y2="712.2" stroke="#bbb" stroke-width="3.5" stroke-dasharray="6.5 15.9"/>
<line x1="125.0" y1="659.4" x2="537.0" y2="659.4" stroke="#bbb" stroke-width="3.5" stroke-dasharray="6.5 15.9"/>
<line x1="125.0" y1="606.5" x2="537.0" y2="606.5" stroke="#bbb" stroke-width="3.5" stroke-dasharray="6.5 15.9"/>
<line x1="125.0" y1="553.7" x2="537.0" y2="553.7" stroke="#bbb" stroke-width="3.5" stroke-dasharray="6.5 15.9"/>
<path d="M147.2,817.9 V808.9 M147.2,500.8 V509.8 M190.8,817.9 V802.4 M190.8,500.8 V516.3 M234.4,817.9 V808.9 M234.4,500.8 V509.8 M278.1,817.9 V802.4 M278.1,500.8 V516.3 M321.8,817.9 V808.9 M321.8,500.8 V509.8 M365.4,817.9 V802.4 M365.4,500.8 V516.3 M409.1,817.9 V808.9 M409.1,500.8 V509.8 M452.7,817.9 V802.4 M452.7,500.8 V516.3 M496.3,817.9 V808.9 M496.3,500.8 V509.8 M103.5,765.0 H113.0 M540.0,765.0 H530.5 M103.5,712.2 H120.0 M540.0,712.2 H523.5 M103.5,659.4 H113.0 M540.0,659.4 H530.5 M103.5,606.5 H120.0 M540.0,606.5 H523.5 M103.5,553.7 H113.0 M540.0,553.7 H530.5" stroke="#000" stroke-width="5.5" fill="none"/>
<rect x="103.5" y="500.8" width="436.5" height="317.09999999999997" fill="none" stroke="#000" stroke-width="5.8"/>
<path d="M103.0,521.0 C103.0,517.3 102.4,502.8 103.0,499.0 C103.6,495.2 105.4,492.3 106.5,498.0 C107.6,503.7 108.6,520.7 109.5,533.0 C110.4,545.3 111.1,564.8 112.0,572.0 C112.9,579.2 114.0,573.0 114.7,576.0 C115.5,579.0 115.6,579.3 116.5,590.0 C117.4,600.7 118.8,619.7 120.0,640.0 C121.2,660.3 122.6,694.0 123.5,712.0 C124.4,730.0 124.4,737.8 125.3,748.0 C126.2,758.2 127.9,768.3 129.0,773.0 C130.1,777.7 130.6,776.5 131.8,776.0 C133.0,775.5 134.7,772.8 136.0,770.0 C137.3,767.2 138.3,762.0 139.8,759.0 C141.3,756.0 143.7,759.8 145.2,752.0 C146.7,744.2 147.6,730.7 148.8,712.0 C150.0,693.3 151.4,662.8 152.4,640.0 C153.4,617.2 153.8,589.5 155.0,575.0 C156.2,560.5 158.1,560.4 159.7,553.0 C161.3,545.6 163.2,532.6 164.4,530.4 C165.6,528.2 166.0,539.2 167.0,540.0 C168.0,540.8 169.3,535.5 170.5,535.0 C171.7,534.5 172.8,531.7 174.0,537.0 C175.2,542.3 176.8,555.9 177.8,567.0 C178.9,578.1 179.4,588.4 180.3,603.5 C181.2,618.6 182.1,636.6 183.2,657.7 C184.3,678.8 185.6,713.1 186.8,730.0 C188.0,746.9 189.2,755.3 190.4,759.0 C191.6,762.7 192.8,752.0 194.0,752.0 C195.2,752.0 196.1,759.7 197.6,759.0 C199.1,758.3 201.5,755.8 203.0,748.0 C204.5,740.2 205.5,730.0 206.7,712.0 C207.9,694.0 209.1,661.1 210.3,640.0 C211.5,618.9 212.8,598.7 214.0,585.4 C215.2,572.1 216.3,567.6 217.5,560.0 C218.7,552.4 219.8,541.8 221.0,540.0 C222.2,538.2 223.6,549.0 224.8,549.3 C226.0,549.6 227.2,542.0 228.4,542.0 C229.6,542.0 230.9,549.6 232.0,549.3 C233.1,549.0 234.1,539.4 235.0,540.0 C235.9,540.6 236.4,539.4 237.4,553.0 C238.4,566.6 239.8,601.1 241.0,621.6 C242.2,642.1 243.5,657.7 244.7,675.8 C245.9,693.9 247.1,715.0 248.3,730.0 C249.5,745.0 250.7,757.5 252.0,766.0 C253.3,774.5 255.0,781.0 256.2,781.0 C257.4,781.0 257.9,769.7 259.0,766.0 C260.1,762.3 261.5,760.8 262.7,759.0 C263.9,757.2 265.2,762.8 266.4,755.0 C267.6,747.2 268.8,731.2 270.0,712.0 C271.2,692.8 272.4,664.2 273.6,640.0 C274.8,615.8 276.0,583.9 277.2,567.0 C278.4,550.1 279.6,541.4 280.8,538.4 C282.0,535.4 283.2,547.2 284.4,549.0 C285.6,550.8 286.5,551.3 288.0,549.0 C289.5,546.7 292.0,534.3 293.5,535.0 C295.0,535.7 295.8,541.6 297.0,553.0 C298.2,564.4 299.5,583.0 300.7,603.5 C301.9,624.0 303.1,651.7 304.3,675.8 C305.5,699.9 306.5,732.6 308.0,748.0 C309.5,763.4 311.6,763.3 313.4,768.0 C315.2,772.7 317.0,775.7 318.8,776.0 C320.6,776.3 322.7,772.8 324.2,770.0 C325.7,767.2 326.7,774.7 327.8,759.0 C328.9,743.3 329.7,701.7 330.8,675.8 C331.9,649.9 333.4,624.0 334.5,603.5 C335.6,583.0 336.5,564.1 337.4,553.0 C338.3,541.9 339.1,537.8 339.9,536.6 C340.7,535.4 341.4,545.9 342.4,545.6 C343.4,545.3 344.6,537.2 346.0,534.8 C347.4,532.4 349.3,527.4 350.7,531.0 C352.1,534.6 353.2,551.0 354.4,556.5 C355.6,562.0 356.8,552.9 358.0,563.7 C359.2,574.6 360.4,599.9 361.6,621.6 C362.8,643.3 364.0,675.9 365.2,694.0 C366.4,712.1 367.6,718.6 368.8,730.0 C370.0,741.4 371.2,757.8 372.4,762.6 C373.6,767.4 374.5,759.3 376.0,759.0 C377.5,758.7 379.7,762.0 381.5,760.8 C383.3,759.6 385.4,759.9 386.9,751.8 C388.4,743.7 389.3,729.5 390.5,712.0 C391.7,694.5 392.9,668.0 394.1,646.9 C395.3,625.8 396.8,602.3 397.8,585.4 C398.8,568.5 399.1,554.9 400.3,545.6 C401.5,536.3 403.6,530.0 405.0,529.4 C406.4,528.8 407.4,540.8 408.6,542.0 C409.8,543.2 411.0,536.6 412.2,536.6 C413.4,536.6 414.6,538.7 415.8,542.0 C417.0,545.3 418.3,543.2 419.5,556.5 C420.7,569.8 421.8,598.7 423.0,621.6 C424.2,644.5 425.5,674.1 426.7,694.0 C427.9,713.9 428.8,727.8 430.3,741.0 C431.8,754.2 433.9,770.2 435.7,773.5 C437.5,776.8 439.4,762.6 441.2,760.8 C443.0,759.0 445.1,767.7 446.6,762.6 C448.1,757.5 449.0,746.3 450.2,730.0 C451.4,713.7 452.6,686.1 453.8,665.0 C455.0,643.9 456.2,623.4 457.4,603.5 C458.6,583.6 459.8,555.9 461.0,545.6 C462.2,535.4 463.5,542.0 464.7,542.0 C465.9,542.0 467.2,547.1 468.3,545.6 C469.4,544.1 470.0,534.2 471.2,533.0 C472.4,531.8 474.2,533.9 475.5,538.4 C476.8,542.9 477.9,549.1 479.1,560.0 C480.3,570.9 481.5,587.2 482.7,603.5 C483.9,619.8 485.2,640.8 486.4,657.7 C487.6,674.6 488.8,692.8 490.0,704.8 C491.2,716.8 492.4,724.0 493.6,730.0 C494.8,736.0 496.1,738.6 497.2,741.0 C498.3,743.4 499.2,738.8 500.1,744.5 C501.0,750.2 501.6,772.6 502.6,775.0 C503.6,777.4 505.0,763.5 506.2,759.0 C507.4,754.5 508.7,755.8 509.9,748.0 C511.1,740.2 512.3,730.0 513.5,712.0 C514.7,694.0 515.9,664.1 517.1,640.0 C518.3,615.9 519.5,586.6 520.7,567.3 C521.9,548.0 523.1,533.9 524.3,524.0 C525.5,514.1 526.8,512.2 528.0,508.0 C529.2,503.8 530.8,500.8 531.6,499.0 C532.4,497.2 532.8,497.3 533.0,497.0" fill="none" stroke="#FF46A8" stroke-width="6" stroke-linejoin="round" stroke-linecap="round"/>
<text x="103.5" y="865.3" font-family="Liberation Sans, sans-serif" font-size="33" text-anchor="middle">0</text>
<text x="190.8" y="865.3" font-family="Liberation Sans, sans-serif" font-size="33" text-anchor="middle">2</text>
<text x="278.1" y="865.3" font-family="Liberation Sans, sans-serif" font-size="33" text-anchor="middle">4</text>
<text x="365.4" y="865.3" font-family="Liberation Sans, sans-serif" font-size="33" text-anchor="middle">6</text>
<text x="452.7" y="865.3" font-family="Liberation Sans, sans-serif" font-size="33" text-anchor="middle">8</text>
<text x="540.0" y="865.3" font-family="Liberation Sans, sans-serif" font-size="33" text-anchor="middle">10</text>
<text x="309.5" y="905.5" font-family="Liberation Sans, sans-serif" font-size="31.5" font-weight="bold" text-anchor="middle" textLength="216.5" lengthAdjust="spacingAndGlyphs">Distance [mm]</text>
<line x1="627.9" y1="766.0" x2="1039.9" y2="766.0" stroke="#bbb" stroke-width="3.5" stroke-dasharray="6.5 15.9"/>
<line x1="627.9" y1="713.0" x2="1039.9" y2="713.0" stroke="#bbb" stroke-width="3.5" stroke-dasharray="6.5 15.9"/>
<line x1="627.9" y1="660.1" x2="1039.9" y2="660.1" stroke="#bbb" stroke-width="3.5" stroke-dasharray="6.5 15.9"/>
<line x1="627.9" y1="607.2" x2="1039.9" y2="607.2" stroke="#bbb" stroke-width="3.5" stroke-dasharray="6.5 15.9"/>
<line x1="627.9" y1="554.2" x2="1039.9" y2="554.2" stroke="#bbb" stroke-width="3.5" stroke-dasharray="6.5 15.9"/>
<path d="M650.0,818.9 V809.9 M650.0,501.3 V510.3 M693.7,818.9 V803.4 M693.7,501.3 V516.8 M737.3,818.9 V809.9 M737.3,501.3 V510.3 M781.0,818.9 V803.4 M781.0,501.3 V516.8 M824.6,818.9 V809.9 M824.6,501.3 V510.3 M868.3,818.9 V803.4 M868.3,501.3 V516.8 M912.0,818.9 V809.9 M912.0,501.3 V510.3 M955.6,818.9 V803.4 M955.6,501.3 V516.8 M999.2,818.9 V809.9 M999.2,501.3 V510.3 M606.4,766.0 H615.9 M1042.9,766.0 H1033.4 M606.4,713.0 H622.9 M1042.9,713.0 H1026.4 M606.4,660.1 H615.9 M1042.9,660.1 H1033.4 M606.4,607.2 H622.9 M1042.9,607.2 H1026.4 M606.4,554.2 H615.9 M1042.9,554.2 H1033.4" stroke="#000" stroke-width="5.5" fill="none"/>
<rect x="606.4" y="501.3" width="436.5000000000001" height="317.59999999999997" fill="none" stroke="#000" stroke-width="5.8"/>
<path d="M605.6,777.4 C606.7,777.1 610.6,776.8 612.1,775.6 C613.6,774.4 613.8,774.7 614.9,770.0 C616.0,765.3 617.5,751.6 618.6,747.6 C619.7,743.6 620.5,744.8 621.4,745.7 C622.3,746.6 623.3,751.7 624.2,753.2 C625.1,754.8 625.9,755.6 627.0,755.0 C628.1,754.4 629.5,751.7 630.8,749.5 C632.0,747.3 633.4,746.0 634.5,742.0 C635.6,738.0 636.5,731.7 637.3,725.2 C638.1,718.7 638.3,707.1 639.1,702.9 C639.9,698.7 641.1,698.1 641.9,700.0 C642.7,701.9 643.0,708.2 643.8,714.0 C644.6,719.8 645.5,729.0 646.6,734.6 C647.7,740.2 649.1,744.4 650.3,747.6 C651.5,750.8 652.6,752.8 654.0,754.0 C655.4,755.2 657.1,755.6 658.7,755.0 C660.3,754.4 661.9,752.2 663.4,750.4 C664.9,748.5 666.6,744.5 668.0,743.9 C669.4,743.3 670.5,745.9 671.8,746.7 C673.0,747.5 674.4,749.9 675.5,748.5 C676.6,747.1 677.2,742.5 678.3,738.3 C679.4,734.1 680.6,728.4 682.0,723.4 C683.4,718.4 685.3,711.9 686.7,708.5 C688.1,705.1 689.3,702.6 690.4,702.9 C691.5,703.2 692.3,707.2 693.2,710.3 C694.1,713.4 695.1,718.9 696.0,721.5 C696.9,724.1 697.9,726.5 698.8,726.2 C699.7,725.9 700.5,720.4 701.6,719.6 C702.7,718.8 704.2,719.6 705.3,721.5 C706.4,723.4 707.2,726.8 708.1,730.8 C709.0,734.8 710.0,742.6 710.9,745.7 C711.8,748.8 712.8,750.1 713.7,749.5 C714.6,748.9 715.6,744.0 716.5,742.0 C717.4,740.0 718.4,737.7 719.3,737.4 C720.2,737.1 721.1,739.2 722.0,740.1 C722.9,741.0 723.8,743.0 724.9,743.0 C726.0,743.0 727.2,741.5 728.6,740.1 C730.0,738.7 731.9,737.4 733.3,734.6 C734.7,731.8 735.8,728.1 737.0,723.4 C738.2,718.7 739.5,711.3 740.7,706.6 C742.0,701.9 743.2,697.7 744.5,695.4 C745.8,693.1 747.0,692.8 748.2,692.6 C749.4,692.5 750.7,693.7 751.9,694.5 C753.1,695.3 754.5,697.3 755.6,697.3 C756.7,697.3 757.5,695.1 758.4,694.5 C759.3,693.9 760.3,691.5 761.2,693.5 C762.1,695.5 763.1,702.2 764.0,706.6 C764.9,711.0 765.9,717.1 766.8,719.6 C767.7,722.1 768.5,721.2 769.6,721.5 C770.7,721.8 772.2,720.6 773.3,721.5 C774.4,722.4 775.2,724.0 776.1,727.1 C777.0,730.2 778.0,735.5 778.9,740.1 C779.8,744.8 780.8,751.6 781.7,755.0 C782.6,758.4 783.3,760.9 784.2,760.6 C785.1,760.3 786.3,756.9 787.3,753.2 C788.3,749.5 789.2,743.0 790.1,738.3 C791.0,733.6 792.0,727.9 792.9,725.2 C793.8,722.6 794.6,721.9 795.7,722.4 C796.8,722.9 798.3,728.8 799.4,728.0 C800.5,727.2 801.3,721.7 802.2,717.8 C803.1,713.9 803.8,708.8 805.0,704.7 C806.2,700.7 808.1,696.6 809.7,693.5 C811.3,690.4 813.0,686.9 814.4,686.0 C815.8,685.1 816.8,686.8 818.0,688.0 C819.2,689.2 820.5,690.4 821.8,693.5 C823.0,696.6 824.5,703.5 825.5,706.6 C826.5,709.7 826.5,708.2 827.5,712.2 C828.5,716.2 829.8,726.8 831.2,730.8 C832.6,734.8 833.9,735.9 835.8,736.4 C837.7,736.9 840.1,733.8 842.4,733.6 C844.7,733.5 847.9,736.0 849.8,735.5 C851.7,735.0 852.4,733.1 853.6,730.8 C854.9,728.5 855.8,723.0 857.3,721.5 C858.8,720.0 861.3,722.8 862.9,721.5 C864.5,720.2 865.4,717.2 866.6,714.0 C867.8,710.8 869.1,704.5 870.3,702.0 C871.5,699.5 872.6,699.8 874.0,699.0 C875.4,698.2 877.1,695.4 878.7,697.3 C880.3,699.2 881.9,705.6 883.4,710.3 C884.9,714.9 886.1,722.6 888.0,725.2 C889.9,727.9 892.6,725.1 894.6,726.2 C896.6,727.3 898.5,729.2 900.2,731.8 C901.9,734.4 903.4,738.1 904.8,742.0 C906.2,745.9 907.2,751.6 908.5,755.0 C909.8,758.4 910.9,763.4 912.3,762.5 C913.7,761.6 915.5,753.5 917.0,749.5 C918.5,745.5 920.2,740.3 921.6,738.3 C923.0,736.3 924.2,736.5 925.3,737.4 C926.4,738.3 927.0,741.6 928.1,743.9 C929.2,746.2 930.2,750.7 931.8,751.3 C933.3,751.9 935.7,749.1 937.4,747.6 C939.1,746.1 940.7,744.5 942.1,742.0 C943.5,739.5 944.6,735.8 945.8,732.7 C947.0,729.6 948.4,724.3 949.5,723.4 C950.6,722.5 951.4,723.7 952.3,727.1 C953.2,730.5 954.0,738.3 955.1,743.9 C956.2,749.5 957.3,757.5 958.9,760.6 C960.5,763.7 962.8,761.2 964.5,762.5 C966.2,763.8 967.6,766.4 969.1,768.1 C970.6,769.8 972.1,772.3 973.8,772.8 C975.5,773.3 977.8,770.4 979.4,770.9 C981.0,771.4 981.9,771.7 983.1,775.6 C984.3,779.5 985.5,789.2 986.8,794.2 C988.0,799.2 989.4,802.9 990.6,805.4 C991.9,807.9 993.2,809.4 994.3,809.1 C995.4,808.8 996.2,806.0 997.1,803.5 C998.0,801.0 998.8,795.3 999.9,794.2 C1001.0,793.1 1001.9,796.7 1003.6,797.0 C1005.3,797.3 1008.4,794.9 1010.1,796.0 C1011.8,797.1 1012.7,799.8 1013.8,803.5 C1014.9,807.2 1015.5,815.6 1016.6,818.4 C1017.7,821.2 1019.3,820.8 1020.4,820.3 C1021.5,819.8 1022.1,817.5 1023.2,815.6 C1024.3,813.7 1025.8,809.6 1026.9,809.1 C1028.0,808.6 1028.9,810.9 1029.7,812.8 C1030.5,814.7 1031.3,819.0 1031.6,820.3" fill="none" stroke="#FF46A8" stroke-width="6" stroke-linejoin="round" stroke-linecap="round"/>
<text x="606.4" y="865.3" font-family="Liberation Sans, sans-serif" font-size="33" text-anchor="middle">0</text>
<text x="693.7" y="865.3" font-family="Liberation Sans, sans-serif" font-size="33" text-anchor="middle">2</text>
<text x="781.0" y="865.3" font-family="Liberation Sans, sans-serif" font-size="33" text-anchor="middle">4</text>
<text x="868.3" y="865.3" font-family="Liberation Sans, sans-serif" font-size="33" text-anchor="middle">6</text>
<text x="955.6" y="865.3" font-family="Liberation Sans, sans-serif" font-size="33" text-anchor="middle">8</text>
<text x="1042.9" y="865.3" font-family="Liberation Sans, sans-serif" font-size="33" text-anchor="middle">10</text>
<text x="812.4" y="905.5" font-family="Liberation Sans, sans-serif" font-size="31.5" font-weight="bold" text-anchor="middle" textLength="216.5" lengthAdjust="spacingAndGlyphs">Distance [mm]</text>
<text x="84" y="827.3" font-family="Liberation Sans, sans-serif" font-size="33" text-anchor="end">0</text>
<text x="84" y="721.6" font-family="Liberation Sans, sans-serif" font-size="33" text-anchor="end">50</text>
<text x="84" y="615.9" font-family="Liberation Sans, sans-serif" font-size="33" text-anchor="end">100</text>
<text x="84" y="510.2" font-family="Liberation Sans, sans-serif" font-size="33" text-anchor="end">150</text>
<text transform="translate(25.5,673.6) rotate(-90)" x="0" y="0" font-family="Liberation Sans, sans-serif" font-size="32" font-weight="bold" text-anchor="middle" textLength="320" lengthAdjust="spacingAndGlyphs">Water thickness [&#8201;µm]</text>
</svg>
</body></html>
